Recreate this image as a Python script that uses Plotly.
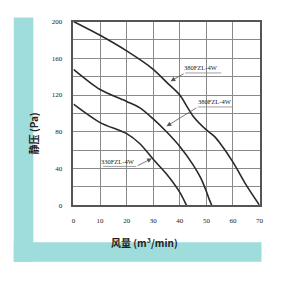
import plotly.graph_objects as go

# Data
x1 = [0, 10, 20, 30, 35, 40, 43, 45, 50, 53, 55, 60, 65, 70]
y1 = [200, 185, 168, 148, 134, 120, 106, 97, 82, 75, 68, 47, 22, 0]
x2 = [0, 10, 20, 25, 30, 35, 40, 45, 48, 50, 51, 52]
y2 = [148, 126, 113, 106, 94, 80, 64, 44, 29, 15, 7, 0]
x3 = [0, 10, 20, 25, 30, 35, 40, 42.5]
y3 = [110, 90, 78, 67, 50, 34, 14, 0]
names = ["380FZL-4W", "380FZL-4W", "330FZL-4W"]

x_ticks = [0, 10, 20, 30, 40, 50, 60, 70]
y_ticks = [0, 20, 40, 60, 80, 100, 120, 140, 160, 180, 200]
y_ticktext = ["0", "", "40", "", "80", "", "120", "", "160", "", "200"]

# label geometry (data units): tip, underline x-range, underline y, text position
tips = [(36.5, 135), (35, 86), (29.5, 51)]
under_x = [(42.0, 55.6), (46.8, 59.7), (11.1, 23.6)]
under_y = [144, 107, 42.3]
tail_side = [0, 0, 1]
text_pos = [(48.1, 149.5), (53.1, 112.5), (16.6, 47.8)]

fig = go.Figure()
for xs, ys in [(x1, y1), (x2, y2), (x3, y3)]:
    fig.add_trace(go.Scatter(x=xs, y=ys, mode="lines",
                             line=dict(color="#2a2a2a", width=1.6, shape="spline", smoothing=0.8),
                             showlegend=False, hoverinfo="skip"))

teal = "#9fdddc"
shapes = [
    dict(type="rect", xref="paper", yref="paper", x0=12/290, x1=32/290,
         y0=1-265/290, y1=1-14/290, fillcolor=teal, line=dict(width=0), layer="below"),
    dict(type="rect", xref="paper", yref="paper", x0=12/290, x1=265/290,
         y0=1-265/290, y1=1-245/290, fillcolor=teal, line=dict(width=0), layer="below"),
]
annotations = []
for i in range(3):
    ux0, ux1 = under_x[i]
    shapes.append(dict(type="line", xref="x", yref="y", x0=ux0, x1=ux1,
                       y0=under_y[i], y1=under_y[i], line=dict(color="#888", width=0.8)))
    tx = ux0 if tail_side[i] == 0 else ux1
    annotations.append(dict(x=tips[i][0], y=tips[i][1], ax=tx, ay=under_y[i],
                            xref="x", yref="y", axref="x", ayref="y", text="",
                            showarrow=True, arrowhead=2, arrowsize=1.2, arrowwidth=0.8,
                            arrowcolor="#555"))
    annotations.append(dict(x=text_pos[i][0], y=text_pos[i][1], xref="x", yref="y",
                            text=names[i], showarrow=False,
                            font=dict(family="Liberation Serif", size=6.5, color="#222")))

annotations.append(dict(x=22/290, y=1-133/290, xref="paper", yref="paper",
                        text="<b>静压 (Pa)</b>", textangle=-90, showarrow=False,
                        font=dict(family="Noto Sans CJK SC", size=10, color="#222")))
annotations.append(dict(x=145/290, y=1-255/290, xref="paper", yref="paper",
                        text="<b>风量 (m³/min)</b>", showarrow=False,
                        font=dict(family="Noto Sans CJK SC", size=10, color="#222")))

fig.update_layout(
    width=290, height=290, margin=dict(l=0, r=0, t=0, b=0),
    paper_bgcolor="white", plot_bgcolor="white",
    shapes=shapes, annotations=annotations,
    xaxis=dict(domain=[73/290, 263/290], range=[0, 70], tickvals=x_ticks,
               showgrid=True, gridcolor="#8a8a8a", gridwidth=1, zeroline=False,
               showline=True, linecolor="#555", linewidth=1.5, mirror=True,
               ticks="", ticklabelstandoff=8,
               tickfont=dict(family="Liberation Serif", size=7, color="#222")),
    yaxis=dict(domain=[1-207/290, 1-18/290], range=[0, 200], tickvals=y_ticks,
               ticktext=y_ticktext,
               showgrid=True, gridcolor="#8a8a8a", gridwidth=1, zeroline=False,
               showline=True, linecolor="#555", linewidth=1.5, mirror=True,
               ticks="", ticklabelstandoff=8,
               tickfont=dict(family="Liberation Serif", size=7, color="#222")),
)
fig.write_html("out.html")
